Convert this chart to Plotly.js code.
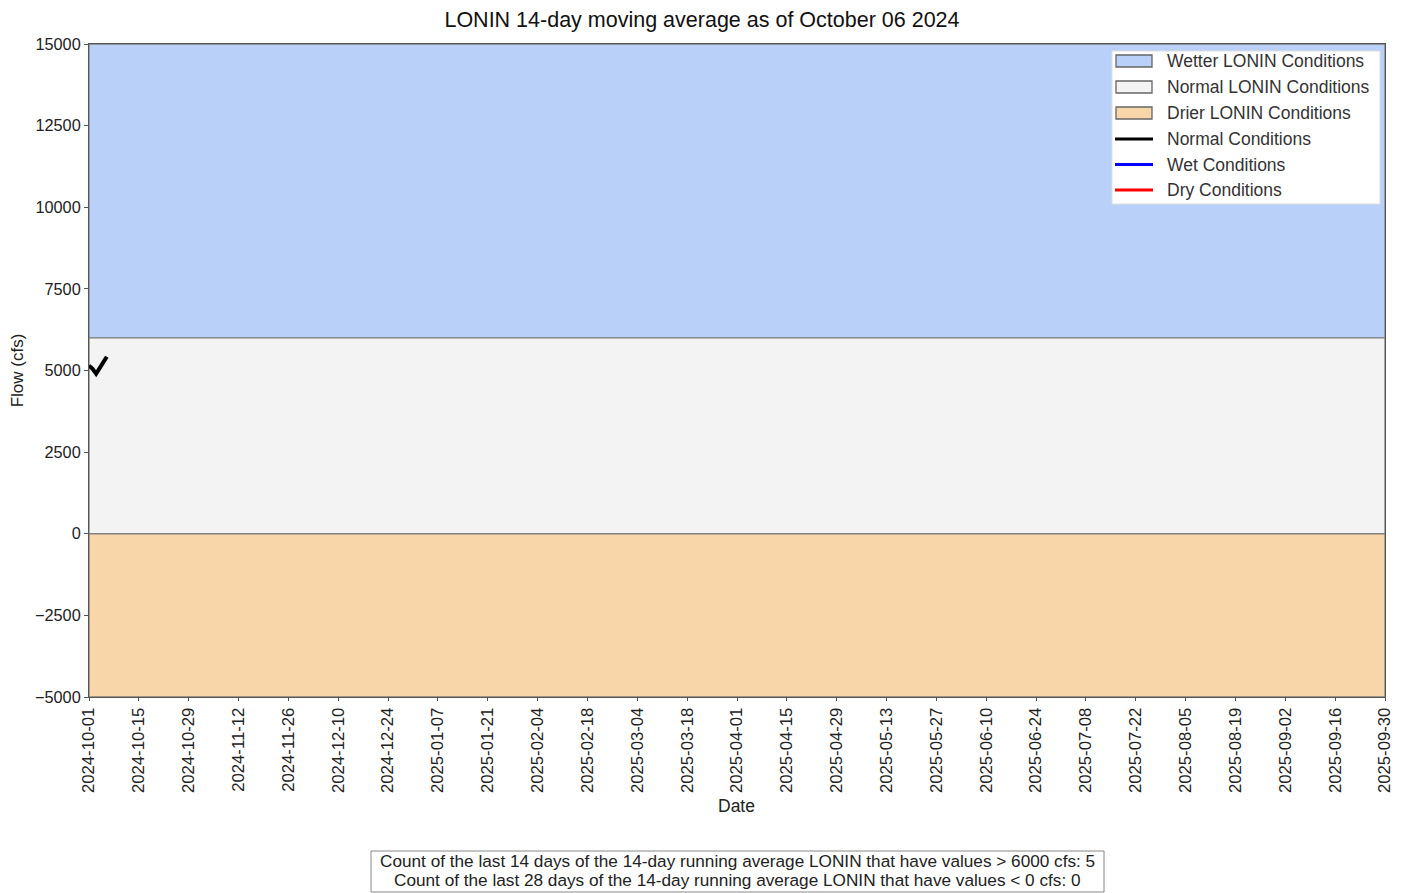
<!DOCTYPE html>
<html><head><meta charset="utf-8">
<script src="https://cdn.plot.ly/plotly-3.0.1.min.js"></script>
<style>body{margin:0;background:#fff}#c{width:1402px;height:893px}</style>
</head><body><div id="c"></div>
<script>
const rangeDates = ['2024-10-01', '2025-09-30'];
const wetterBand = [6000, 15000];
const normalBand = [0, 6000];
const drierBand = [-5000, 0];
const flowDates = ['2024-10-01','2024-10-02','2024-10-03','2024-10-04','2024-10-05','2024-10-06'];
const flowValues = [5150, 5050, 4900, 5050, 5250, 5420];
const tickDates = ['2024-10-01','2024-10-15','2024-10-29','2024-11-12','2024-11-26','2024-12-10','2024-12-24','2025-01-07','2025-01-21','2025-02-04','2025-02-18','2025-03-04','2025-03-18','2025-04-01','2025-04-15','2025-04-29','2025-05-13','2025-05-27','2025-06-10','2025-06-24','2025-07-08','2025-07-22','2025-08-05','2025-08-19','2025-09-02','2025-09-16','2025-09-30'];
const yTicks = [-5000, -2500, 0, 2500, 5000, 7500, 10000, 12500, 15000];
const legendNames = ['Wetter LONIN Conditions', 'Normal LONIN Conditions', 'Drier LONIN Conditions', 'Normal Conditions', 'Wet Conditions', 'Dry Conditions'];
const countText = ['Count of the last 14 days of the 14-day running average LONIN that have values > 6000 cfs: 5',
                   'Count of the last 28 days of the 14-day running average LONIN that have values < 0 cfs: 0'];

const colWet = 'rgb(185,209,248)', colNorm = 'rgb(243,243,243)', colDry = 'rgb(248,214,170)';
function band(lo, hi, color) {
  return {
    x: [rangeDates[0], rangeDates[1], rangeDates[1], rangeDates[0], rangeDates[0]],
    y: [lo, lo, hi, hi, lo],
    type: 'scatter', mode: 'lines', fill: 'toself', fillcolor: color,
    line: {color: '#808080', width: 1.3}, showlegend: false, hoverinfo: 'skip'
  };
}
const traces = [
  band(wetterBand[0], wetterBand[1], colWet),
  band(normalBand[0], normalBand[1], colNorm),
  band(drierBand[0], drierBand[1], colDry),
  {x: flowDates, y: flowValues, type: 'scatter', mode: 'lines', line: {color: 'black', width: 4}, showlegend: false}
];

// manual legend (pixel -> paper)
const L = 89, R = 1385, T = 44, B = 697;
const px = v => (v - L) / (R - L), py = v => (B - v) / (B - T);
const shapes = [{type: 'rect', xref: 'paper', yref: 'paper', x0: px(1112), x1: px(1380), y0: py(51), y1: py(204),
                 fillcolor: 'white', line: {color: '#dddddd', width: 1}}];
const annotations = [];
const rowY = [61, 87, 113, 139, 164.5, 190];
const fills = [colWet, colNorm, colDry];
const lineCols = ['black', 'blue', 'red'];
legendNames.forEach((n, i) => {
  const y = rowY[i];
  if (i < 3) {
    shapes.push({type: 'rect', xref: 'paper', yref: 'paper', x0: px(1116), x1: px(1152), y0: py(y + 6), y1: py(y - 6),
                 fillcolor: fills[i], line: {color: '#666', width: 1.3}});
  } else {
    shapes.push({type: 'line', xref: 'paper', yref: 'paper', x0: px(1115), x1: px(1153), y0: py(y), y1: py(y),
                 line: {color: lineCols[i - 3], width: 3}});
  }
  annotations.push({xref: 'paper', yref: 'paper', x: px(1165), y: py(y), xanchor: 'left', yanchor: 'middle',
                    text: n, showarrow: false, font: {size: 17.5, color: '#333'}});
});
// bottom count box
shapes.push({type: 'rect', xref: 'paper', yref: 'paper', x0: px(371), x1: px(1104), y0: py(851), y1: py(892),
             fillcolor: 'white', line: {color: '#888', width: 1}});
const countY = [861, 880];
countText.forEach((t, i) => {
  annotations.push({xref: 'paper', yref: 'paper', x: px(738), y: py(countY[i]), xanchor: 'center', yanchor: 'middle',
                    text: t, showarrow: false, font: {size: 17.2, color: '#222'}});
});
// x-axis title
annotations.push({xref: 'paper', yref: 'paper', x: px(736), y: py(806), xanchor: 'center', yanchor: 'middle',
                  text: 'Date', showarrow: false, font: {size: 17.5, color: '#222'}});

const font = 'Liberation Sans, Arial, sans-serif';
const layout = {
  width: 1402, height: 893,
  margin: {l: L, r: 1402 - R, t: T, b: 893 - B},
  paper_bgcolor: 'white', plot_bgcolor: 'white',
  font: {family: font, color: '#222', size: 17},
  title: {text: 'LONIN 14-day moving average as of October 06 2024', x: px(702), xanchor: 'center', xref: 'paper', y: 1 - 19 / 893, yanchor: 'middle', font: {size: 21.5, color: '#111'}},
  xaxis: {
    type: 'date', range: rangeDates, tickvals: tickDates, ticktext: tickDates,
    tickangle: -90, ticks: 'outside', ticklen: 3, tickcolor: '#555', showgrid: false, zeroline: false,
    showline: true, linecolor: '#555', mirror: true, tickfont: {size: 16.7, color: '#222'}
  },
  yaxis: {
    range: [-5000, 15000], tickvals: yTicks,
    ticktext: yTicks.map(v => v < 0 ? '\u2212' + Math.abs(v) : String(v)),
    ticks: 'outside', ticklen: 4, tickcolor: '#555', showgrid: false, zeroline: false,
    showline: true, linecolor: '#555', mirror: true, tickfont: {size: 16.3, color: '#222'},
    title: {text: 'Flow (cfs)', standoff: 7, font: {size: 17}}
  },
  showlegend: false,
  shapes: shapes,
  annotations: annotations
};
Plotly.newPlot('c', traces, layout, {displayModeBar: false, staticPlot: true});
</script></body></html>
